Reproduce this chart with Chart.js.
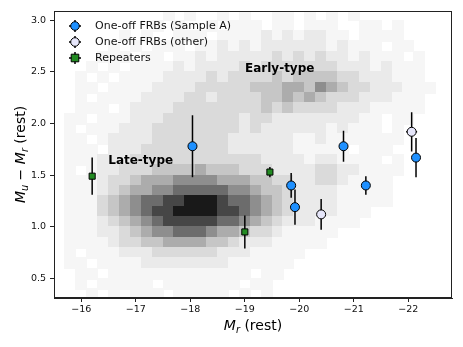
<!DOCTYPE html>
<html><head><meta charset="utf-8">
<script src="https://cdn.jsdelivr.net/npm/chart.js@4/dist/chart.umd.min.js"></script>
<style>html,body{margin:0;padding:0;background:#fff;}canvas{display:block;}</style>
</head><body>
<canvas id="c" width="463" height="347"></canvas>
<script>
// ---- data ----
const xTicks = [-16, -17, -18, -19, -20, -21, -22];
const yTicks = [0.5, 1.0, 1.5, 2.0, 2.5, 3.0];

const sampleA_Mr    = [-18.04, -19.85, -19.92, -20.81, -21.22, -22.14];
const sampleA_color = [1.78, 1.40, 1.19, 1.78, 1.40, 1.67];
const sampleA_err   = [0.30, 0.12, 0.17, 0.15, 0.09, 0.19];

const other_Mr    = [-20.40, -22.06];
const other_color = [1.12, 1.92];
const other_err   = [0.15, 0.19];
const other_xerr  = [0, 0.10];

const rep_Mr    = [-16.20, -19.46, -19.00];
const rep_color = [1.49, 1.53, 0.95];
const rep_err   = [0.18, 0.05, 0.16];

// background galaxy 2D histogram (density level 0-9), rows from colour 3.1 downwards (step 0.1),
// columns from M_r = -15.5 towards brighter (step 0.2)
const histMrStart = -15.5, histMrStep = -0.2;
const histColorTop = 3.1, histColorStep = -0.1;
const histRows = [
 "000000000010100101001101010100000000",
 "000000000101001011101101110011010000",
 "000000101001110111121212211011110000",
 "000001010111011212122222212111011000",
 "000011101101121222223232322121110100",
 "000101011112122223233333332221211100",
 "001010111122223233334344443322211100",
 "001101111222233333444554654332221110",
 "001011112222332333344545433322211100",
 "001110122223333333343433332221111100",
 "011011122233333332332222222211011000",
 "010111222333333332322222212111010000",
 "011012222333333322222211211111110000",
 "011102223333333322222211111011100000",
 "011122233333333333322221221111010000",
 "010122333444454443332222332211110000",
 "011123345556666555443322332111100000",
 "011123455667777766544322221111100000",
 "011134567788999877654322221111100000",
 "011134567889999887654322221110000000",
 "011123456788888776543222111100000000",
 "011122345667776554332111110000000000",
 "011112334455554432221111100000000000",
 "010111222333333222111110000000000000",
 "011011112222222211111100000000000000",
 "001101111111111111011000000000000000",
 "001011111011111110110000000000000000",
 "000101011101111101010000000000000000"
];

const labels = [
  {text: "Early-type", mr: -19.64, color: 2.53},
  {text: "Late-type",  mr: -17.09, color: 1.64}
];

// ---- styles ----
const BLUE = "#1E90FF", LAV = "#E6E6FA", GREEN = "#228B22";
const greys = [255, 246, 234, 218, 198, 172, 142, 108, 70, 25];
const FONT = "'DejaVu Sans', Verdana, sans-serif";

function pts(xs, ys){ return xs.map((v,i)=>({x:v, y:ys[i]})); }

const errSets = [
  {xs: sampleA_Mr, ys: sampleA_color, e: sampleA_err},
  {xs: other_Mr, ys: other_color, e: other_err, xe: other_xerr},
  {xs: rep_Mr, ys: rep_color, e: rep_err}
];

function drawPieces(ctx, pieces, size){
  let w = 0;
  const m = pieces.map(p=>{
    const fs = p[2] ? size*0.7 : size;
    ctx.font = (p[1]?'italic ':'') + fs + 'px ' + FONT;
    const pw = ctx.measureText(p[0]).width;
    w += pw; return {p, fs, pw};
  });
  let x = -w/2;
  m.forEach(({p,fs,pw})=>{
    ctx.font = (p[1]?'italic ':'') + fs + 'px ' + FONT;
    ctx.fillText(p[0], x, p[2] ? size*0.22 : 0);
    x += pw;
  });
}

const plug = {
  id: 'custom',
  beforeDatasetsDraw(chart){
    const {ctx, chartArea:a, scales:{x, y}} = chart;
    ctx.save();
    ctx.beginPath(); ctx.rect(a.left, a.top, a.right-a.left, a.bottom-a.top); ctx.clip();
    histRows.forEach((row, j)=>{
      const c1 = histColorTop + j*histColorStep, c0 = c1 + histColorStep;
      const py1 = y.getPixelForValue(c1), py0 = y.getPixelForValue(c0);
      for (let i=0; i<row.length; i++){
        const lv = +row[i]; if (!lv) continue;
        const m0 = histMrStart + i*histMrStep, m1 = m0 + histMrStep;
        const px0 = x.getPixelForValue(m0), px1 = x.getPixelForValue(m1);
        const g = greys[lv];
        ctx.fillStyle = `rgb(${g},${g},${g})`;
        ctx.fillRect(Math.floor(Math.min(px0,px1)), Math.floor(py1), Math.ceil(Math.abs(px1-px0))+1, Math.ceil(py0-py1)+1);
      }
    });
    ctx.fillStyle = '#000';
    ctx.font = 'bold 12px ' + FONT;
    ctx.textAlign = 'center'; ctx.textBaseline = 'middle';
    labels.forEach(l=>ctx.fillText(l.text, x.getPixelForValue(l.mr), y.getPixelForValue(l.color)));
    ctx.strokeStyle = '#000'; ctx.lineWidth = 1.5;
    errSets.forEach(s=>{
      s.xs.forEach((mv,i)=>{
        const px = x.getPixelForValue(mv);
        ctx.beginPath();
        ctx.moveTo(px, y.getPixelForValue(s.ys[i]+s.e[i]));
        ctx.lineTo(px, y.getPixelForValue(s.ys[i]-s.e[i]));
        if (s.xe && s.xe[i]){
          const py = y.getPixelForValue(s.ys[i]);
          ctx.moveTo(x.getPixelForValue(mv - s.xe[i]), py);
          ctx.lineTo(x.getPixelForValue(mv + s.xe[i]), py);
        }
        ctx.stroke();
      });
    });
    ctx.restore();
  },
  afterDatasetsDraw(chart){
    const {ctx, chartArea:a} = chart;
    ctx.save();
    ctx.strokeStyle = '#222'; ctx.lineWidth = 1;
    ctx.strokeRect(a.left+0.5, a.top+0.5, a.right-a.left-1, a.bottom-a.top-1);
    const items = [
      ["One-off FRBs (Sample A)", BLUE, 'c'],
      ["One-off FRBs (other)", LAV, 'c'],
      ["Repeaters", GREEN, 's']
    ];
    const lx = a.left + 21, ly0 = a.top + 15, dy = 16;
    items.forEach((it, k)=>{
      const cy = ly0 + k*dy;
      ctx.strokeStyle = '#000'; ctx.lineWidth = 1.5;
      ctx.beginPath();
      ctx.moveTo(lx-6, cy); ctx.lineTo(lx+6, cy);
      ctx.moveTo(lx, cy-6); ctx.lineTo(lx, cy+6);
      ctx.stroke();
      ctx.fillStyle = it[1]; ctx.lineWidth = 1;
      ctx.beginPath();
      if (it[2]==='c') ctx.arc(lx, cy, 4.3, 0, Math.PI*2);
      else ctx.rect(lx-3.8, cy-3.8, 7.6, 7.6);
      ctx.fill(); ctx.stroke();
      ctx.fillStyle = '#111';
      ctx.font = '11px ' + FONT; ctx.textAlign = 'left'; ctx.textBaseline = 'middle';
      ctx.fillText(it[0], lx + 20, cy);
    });
    ctx.fillStyle = '#000'; ctx.textAlign = 'left'; ctx.textBaseline = 'alphabetic';
    ctx.save();
    ctx.translate((a.left+a.right)/2, 330);
    drawPieces(ctx, [["M",1,0],["r",1,1],[" (rest)",0,0]], 14);
    ctx.restore();
    ctx.save();
    ctx.translate(25, (a.top+a.bottom)/2);
    ctx.rotate(-Math.PI/2);
    drawPieces(ctx, [["M",1,0],["u",1,1],[" \u2212 ",0,0],["M",1,0],["r",1,1],[" (rest)",0,0]], 14);
    ctx.restore();
    ctx.restore();
  }
};

const ptBase = {borderColor:'#000', borderWidth:1, showLine:false};
new Chart(document.getElementById('c'), {
  type: 'scatter',
  data: {
    datasets: [
      {...ptBase, label:'One-off FRBs (Sample A)', data: pts(sampleA_Mr, sampleA_color), backgroundColor: BLUE, pointStyle:'circle', pointRadius:4.5},
      {...ptBase, label:'One-off FRBs (other)', data: pts(other_Mr, other_color), backgroundColor: LAV, pointStyle:'circle', pointRadius:4.5},
      {...ptBase, label:'Repeaters', data: pts(rep_Mr, rep_color), backgroundColor: GREEN, pointStyle:'rect', pointRadius:4.3}
    ]
  },
  options: {
    responsive: false, animation: false,
    layout: {padding: {left:0, right:11, top:11, bottom:0}},
    plugins: {legend: {display:false}, tooltip: {enabled:false}},
    scales: {
      x: {
        type:'linear', min:-22.8, max:-15.5, reverse:true,
        afterBuildTicks: s => { s.ticks = xTicks.map(v=>({value:v})); },
        afterFit: s => { s.height = 49; },
        grid: {drawOnChartArea:false, color:'#222', tickLength:4, tickWidth:1},
        border: {color:'#222'},
        ticks: {padding:2, color:'#111', font:{family:FONT, size:9.5}, maxRotation:0,
                callback: v => (v<0 ? '\u2212' : '') + Math.abs(v)}
      },
      y: {
        type:'linear', min:0.31, max:3.09,
        afterBuildTicks: s => { s.ticks = yTicks.map(v=>({value:v})); },
        afterFit: s => { s.width = 54; },
        grid: {drawOnChartArea:false, color:'#222', tickLength:4, tickWidth:1},
        border: {color:'#222'},
        ticks: {padding:4, color:'#111', font:{family:FONT, size:9.5},
                callback: v => v.toFixed(1)}
      }
    }
  },
  plugins: [plug]
});
</script>
</body></html>
